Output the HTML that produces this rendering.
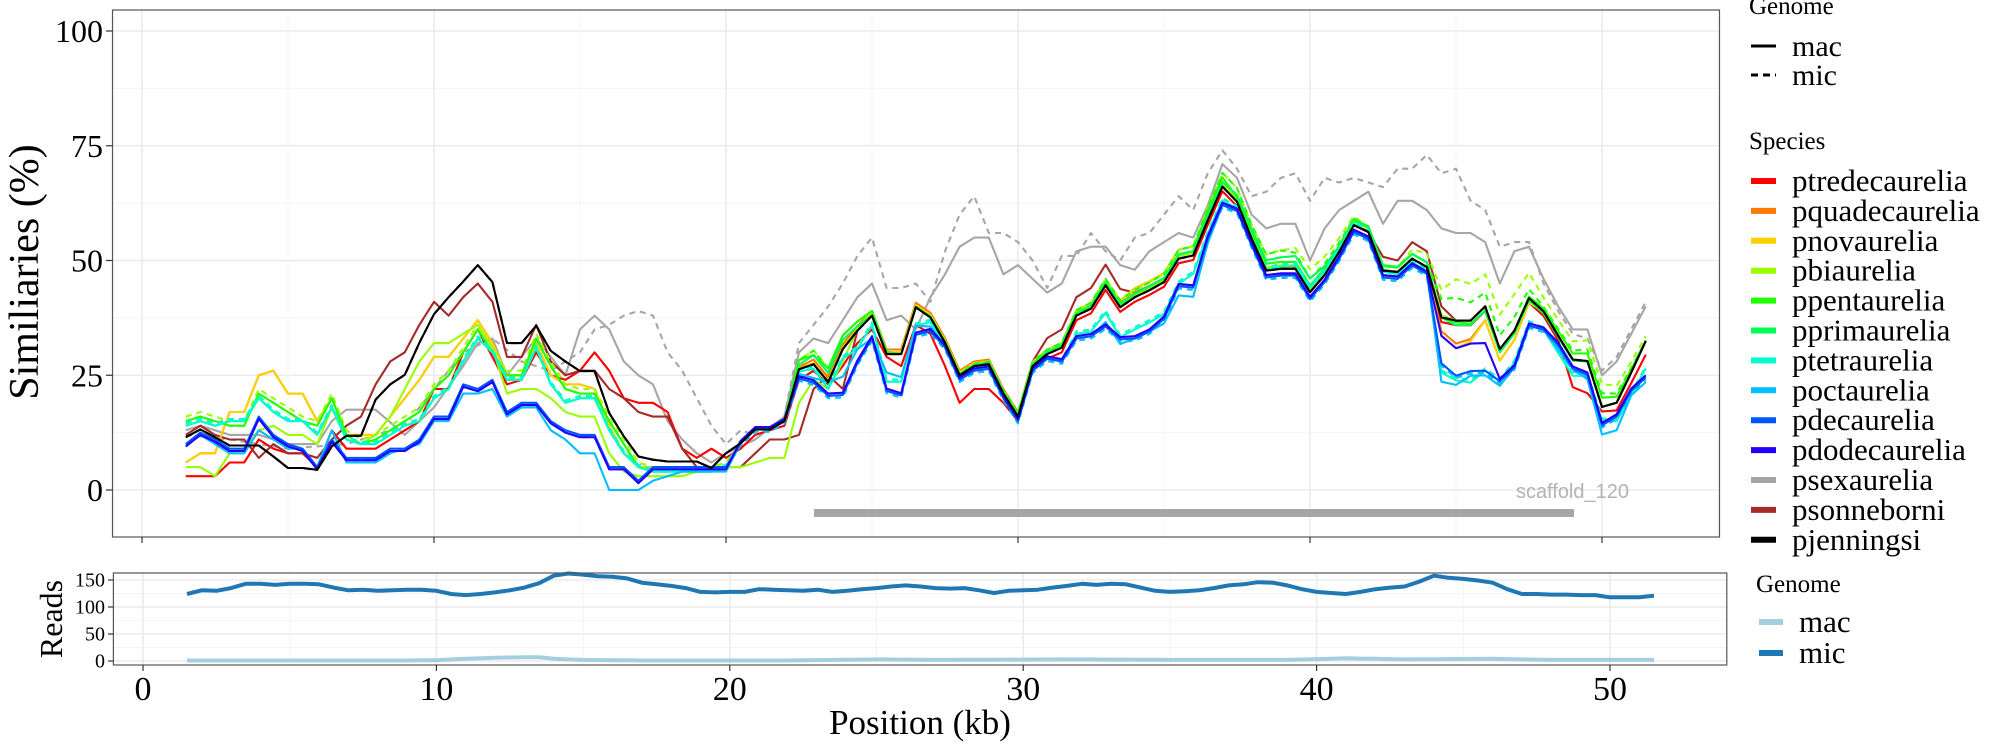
<!DOCTYPE html>
<html><head><meta charset="utf-8">
<style>
html,body{margin:0;padding:0;background:#fff;}
svg{display:block;}
text{font-family:"Liberation Serif",serif;}
</style></head>
<body>
<svg id="s" width="2000" height="750" xmlns="http://www.w3.org/2000/svg"></svg>
<script>
const S=document.getElementById('s');
let h='';
const PT=10,PB=537,BT=573,BB=665;
const X=k=>142+k*29.2, Y=v=>490-v*4.59;
const X2=k=>143+k*29.34, Y2=v=>661-v*0.54;
h+=`<rect x="112.5" y="${PT}" width="1607" height="${PB-PT}" fill="#fff"/>`;
for(let v=-12.5;v<=100;v+=12.5){const y=Y(v);if(y<PT||y>PB)continue;const maj=(v%25===0);
h+=`<line x1="112.5" x2="1719.5" y1="${y}" y2="${y}" stroke="${maj?'#ebebeb':'#f4f4f4'}" stroke-width="${maj?1.6:1}"/>`;}
for(let k=0;k<=55;k+=5){const x=X(k);if(x>1719)continue;const maj=(k%10===0);
h+=`<line y1="${PT}" y2="${PB}" x1="${x}" x2="${x}" stroke="${maj?'#ebebeb':'#f4f4f4'}" stroke-width="${maj?1.6:1}"/>`;}
for(let v=0;v<=175;v+=25){const y=Y2(v);if(y<BT)continue;const maj=(v%50===0);
h+=`<line x1="113.4" x2="1726.8" y1="${y}" y2="${y}" stroke="${maj?'#ebebeb':'#f4f4f4'}" stroke-width="${maj?1.6:1}"/>`;}
for(let k=0;k<=55;k+=5){const x=X2(k);if(x>1726)continue;const maj=(k%10===0);
h+=`<line y1="${BT}" y2="${BB}" x1="${x}" x2="${x}" stroke="${maj?'#ebebeb':'#f4f4f4'}" stroke-width="${maj?1.6:1}"/>`;}

const N=101,kb=i=>1.5+0.5*i;
const B=[11.5,13.2,11.5,9.7,9.7,9.7,7.3,4.8,4.8,4.4,9.5,11.8,11.8,19.7,23,25.1,32.1,38.3,42,45.4,49,45.3,32,32,35.8,30.3,28,25.9,25.9,16.8,11.7,7.3,6.6,6.2,6.2,6.2,4.8,8,10.2,13.2,13.2,15,26.3,27.4,23.5,30.7,34.7,38,29.6,29.6,39.8,37.6,32.1,25,27,27.4,21,16,27,29.6,31,38,39.5,44.6,39.8,42,43.5,45.3,50.4,51.1,58.8,66.1,62.8,54.8,47.8,48.2,48.2,43.1,46.8,51.9,57.7,56.2,47.8,47.5,50.4,48.6,37.6,36.9,36.9,40,30.7,34.7,41.8,38.9,33.6,28.4,28.1,18.1,19,25.6,32.5];
function interp(kp,k){if(!kp||!kp.length)return 0;if(k<=kp[0][0])return kp[0][1];for(let j=1;j<kp.length;j++){if(k<=kp[j][0]){const a=kp[j-1],b=kp[j];return a[1]+(b[1]-a[1])*(k-a[0])/(b[0]-a[0]);}}return kp[kp.length-1][1];}
function mk(early,off){const r=[];for(let i=0;i<N;i++){let v=(early&&i<early.length)?early[i]:B[i];v+=interp(off,kb(i));r.push(Math.max(0,v));}return r;}
function arr(kp){const r=[];for(let i=0;i<N;i++)r.push(interp(kp,kb(i)));return r;}
const G_e=[15,16,15,14,14,21,19,17,15,14,20,12,10,11,13,15,17,22,25,30,35,30,25,25,33,27,22,21,21,15,10,5,4,4,4,4,4,5];
const Boff=[[20,0],[22,0],[22.5,-2],[23,-4],[23.5,-3],[24,-10],[24.5,-7],[25,-5],[25.5,-8],[26,-9],[26.5,-6],[27,-3],[27.5,-1],[31,-1],[31.5,-3],[32,-5],[32.5,-6],[33,-9],[33.5,-7],[34,-9],[34.5,-9],[35,-8],[35.5,-6],[36,-7],[36.5,-4],[37,-4],[37.5,-2],[38,-1.5],[44,-1.5],[44.5,-10],[45,-12],[45.5,-11],[46,-14],[46.5,-7],[47,-8],[47.5,-6],[48,-4],[48.5,-2],[49,-2],[49.5,-3],[50,-4],[50.5,-3],[51,-4],[51.5,-8]];
const Bl_e=[10,12.5,11,9,9,16,12,10,9,5,11,7,7,7,9,9,11,16,16,23,22,24,17,19,19,15,13,12,12,5,5,2,5,5,5,5,5,5];
const Goff=[[20,0],[22,0],[22.5,2],[23,2],[23.5,3],[24,3],[25,1],[26,0],[36,1],[36.5,2],[37,2],[37.5,1],[38,1.5],[40,1.5],[44,1],[44.5,0],[46,-1],[47,0],[50,2],[51.5,0]];
const gm=[[1.5,13],[2,14],[3,12],[4,12],[5,10],[6,10],[6.5,15],[7,17.5],[8,17.5],[9,12],[10,18],[11,27],[11.5,32],[12,33],[12.5,25],[13.5,33],[14.5,25],[15,35],[15.5,38],[16,35],[16.5,28],[17,25],[17.5,23],[18,15],[18.5,11],[19,8],[19.5,6],[20,8],[21,11],[22,16],[22.5,30],[23,33],[23.5,32],[24,37],[24.5,42],[25,45],[25.5,37],[26,38],[26.5,35],[27,42],[27.5,47],[28,53],[28.5,55],[29,55],[29.5,47],[30,49],[30.5,46],[31,43],[31.5,45],[32,52],[32.5,53],[33,53],[33.5,49],[34,48],[34.5,52],[35,54],[35.5,56],[36,55],[36.5,62],[37,71],[37.5,68],[38,60],[38.5,57],[39,58],[39.5,58],[40,50],[40.5,57],[41,61],[41.5,63],[42,65],[42.5,58],[43,63],[43.5,63],[44,61],[44.5,57],[45,56],[45.5,56],[46,54],[46.5,45],[47,52],[47.5,53],[48,46],[48.5,40],[49,35],[49.5,35],[50,25],[50.5,28],[51,34],[51.5,40]];
const gd=[[1.5,12],[3,11],[5,9],[7,10],[9,14],[11,30],[12,33],[13,28],[14,26],[15,30],[15.5,35],[16,36],[16.5,38],[17,39],[17.5,38],[18,30],[18.5,26],[19,20],[19.5,14],[20,10],[20.5,13],[21,12],[21.5,13],[22,16],[22.5,32],[23,36],[23.5,40],[24,45],[24.5,51],[25,55],[25.5,44],[26,44],[26.5,45],[27,41],[27.5,52],[28,60],[28.5,64],[29,56],[29.5,56],[30,54],[30.5,50],[31,44],[31.5,51],[32,51],[32.5,56],[33,52],[33.5,50],[34,55],[34.5,56],[35,60],[35.5,64],[36,61],[36.5,69],[37,74],[37.5,70],[38,64],[38.5,65],[39,68],[39.5,69],[40,63],[40.5,68],[41,67],[41.5,68],[42,67],[42.5,66],[43,70],[43.5,70],[44,73],[44.5,69],[45,70],[45.5,63],[46,61],[46.5,53],[47,54],[47.5,54],[48,45],[48.5,39],[49,34],[49.5,33],[50,26],[50.5,29],[51,35],[51.5,41]];
const Br_e=[12,14,12,11,11,7,10,8,8,7,11,14,16,23,28,30,36,41,38,42,45,41,29,29,36,28,25,26,26,22,20,17,16,16,9,5,5,5,5,8,11,11,12,22,25,22];
const Broff=[[23.5,0],[30,0],[30.5,1],[31,3.5],[31.5,4],[32,4],[32.5,4.5],[33,4.5],[33.5,4],[34,1],[42,0],[42.5,3],[43,2.5],[43.5,3.6],[44,3.4],[44.5,2.4],[45,0]];
const R_e=[4,4,4,7,7,12,10,9,9,6,14,10,10,10,12,14,16,23,23,31,36,30,24,25,31,26,25,27,31,27,21,20,20,18,10,8,10,8,10,13,14,15,25,27,24,28,33,36,30,28,37,35,28,20,23,23,20,16];
const Roff=[[30,-1],[46,-1],[47,0],[47.5,-1],[48,-1],[48.5,-1],[49,-6],[49.5,-7],[50,-1],[51.5,-3]];
const Y_e=[6,8,8,17,17,25,26,21,21,15,20,12,12,12,16,20,24,29,29,33,37,32,25,25,32,25,23,23,22,14,8,5,5,5,5,5,5,5];
const Yoff=[[20,0],[33,1],[34,2],[36,2],[37,0],[44,0],[44.5,-4],[45,-6],[46,-3],[47,-2],[48,0]];
const L_e=[5,5,3,8,9,13,14,12,12,10,18,12,10,12,16,22,28,32,32,34,36,31,21,22,22,20,17,16,16,8,4,3,3,3,3,4,4,5,5,6,7,7,19,24,22,28];
const Loff=[[24,0],[25,1],[26,0],[44,1],[45,0]];
const C_e=[10,12,10,8,8,13,11,9,9,5,13,6,6,6,8,9,10,15,15,21,21,22,16,18,18,13,11,8,8,0,0,0,2,3,4,4,4,4];
const Coff=[[22,0],[22.5,-1],[23,-3],[23.5,0],[24,-6],[24.5,-4],[25,-5],[25.5,-4],[26,-5],[26.5,-4],[27,-2],[27.5,-1],[31,-1],[31.5,-3],[32,-5],[32.5,-6],[33,-8],[33.5,-8],[34,-9],[34.5,-9],[35,-9],[35.5,-8],[36,-9],[36.5,-5],[37,-4],[37.5,-2],[38,-1],[44,-1],[44.5,-14],[45,-14],[45.5,-12],[46,-15],[46.5,-8],[47,-8],[47.5,-6],[48,-4],[49,-2],[50,-6],[50.5,-6],[51,-5],[51.5,-9]];
const T_e=[14,15,14,15,15,20,17,15,15,12,18,11,10,10,12,14,15,20,22,28,33,30,24,24,31,23,19,20,20,13,8,5,4,4,4,4,4,5];
const Toff=[[22,0],[23,-1],[24,-2],[24.5,-4],[25,-2],[25.5,-6],[26,-6],[26.5,-4],[27,-1],[31,-1],[31.5,-3],[32,-4],[33,-6],[34,-7],[35,-7],[36,-4],[36.5,-3],[37,-3],[38,0],[40,1],[44,-1],[44.5,-12],[45,-13],[46,-14],[46.5,-7],[47,-7],[48,-4],[50,-3],[51.5,-6]];
const series=[
 [arr(gd),'#a6a6a6',1],
 [arr(gm),'#a6a6a6',0],
 [mk(R_e,Roff),'#ff0000',0],
 [mk(Br_e,Broff),'#a52a2a',0],
 [mk(Y_e,[[20,0],[22,0],[23,1],[33,1],[44,0],[44.5,-3],[45,-5],[46,-3],[47,-2],[48,0]]),'#ff7b00',0],
 [mk(Y_e,Yoff),'#ffd000',0],
 [mk(L_e,Loff),'#99ff00',0],
 [mk(G_e.map(v=>v+1),[[20,0],[22,0],[22.5,2],[23,3],[24,3],[25,1],[26,0],[36,2],[37,3],[38,3],[39,4],[40,5],[42,1],[43,1],[44,3],[44.5,6],[45,9],[46,7],[47,8],[48,3],[50,5],[51.5,1]]),'#99ff00',1],
 [mk(G_e,Goff),'#22ff00',0],
 [mk(G_e,[[20,0],[22,0],[22.5,2],[23,3],[24,3],[25,1],[26,0],[36,2],[37,3],[38,3],[39,4],[40,3],[42,1],[44,1],[44.5,4],[45,5],[46,3],[47,3],[48,1],[50,3],[51.5,0]]),'#22ff00',1],
 [mk(T_e,[[22,0],[23,2],[24,2],[25,0],[37,1],[38,2],[40,3],[41,1],[44,1],[45,-1],[50,0]]),'#00ff55',0],
 [mk(T_e,Toff),'#00ffcc',0],
 [mk(T_e,Toff.map(p=>[p[0],p[1]+0.5])),'#00ffcc',1],
 [mk(C_e,Coff),'#00bfff',0],
 [mk(Bl_e,Boff.map(p=>[p[0],p[1]-0.5])),'#00bfff',1],
 [mk(Bl_e,Boff),'#0055ff',0],
 [mk(Bl_e.map(v=>v-1),Boff.map(p=>[p[0],p[0]>44&&p[0]<46.5?p[1]+6:p[1]+0.5])),'#2200ff',0],
 [mk(null,[[1,0]]),'#000000',1],
 [mk(null,[[1,0]]),'#000000',0],
];
for(const [d,c,dash] of series){
 let p=d.map((v,i)=>`${X(kb(i)).toFixed(1)},${Y(v).toFixed(1)}`).join(' ');
 h+=`<polyline points="${p}" fill="none" stroke="${c}" stroke-width="2.1" stroke-linejoin="round" ${dash?'stroke-dasharray="6,5"':''}/>`;
}
h+='<line x1="814" x2="1574" y1="513" y2="513" stroke="#a6a6a6" stroke-width="8"/>';
h+='<text x="1629" y="498" text-anchor="end" font-size="20" fill="#b3b3b3" style="font-family:\'Liberation Sans\',sans-serif">scaffold_120</text>';
h+=`<rect x="112.5" y="${PT}" width="1607" height="${PB-PT}" fill="none" stroke="#555" stroke-width="1.2"/>`;
for(const v of [0,25,50,75,100]){const y=Y(v);h+=`<line x1="106" x2="112.5" y1="${y}" y2="${y}" stroke="#333" stroke-width="1.2"/><text x="103" y="${y+11}" text-anchor="end" font-size="32" fill="#000">${v}</text>`;}
for(let k=0;k<=50;k+=10){const x=X(k);h+=`<line x1="${x}" x2="${x}" y1="${PB}" y2="${PB+6}" stroke="#333" stroke-width="1.2"/>`;}
h+='<text transform="translate(38,272) rotate(-90)" text-anchor="middle" font-size="42">Similiaries (%)</text>';
const mic=[124,131,130,135,143,143,141,143,143,142,136,131,132,130,131,132,132,130,124,122,124,127,131,136,144,158,162,160,157,156,153,145,142,139,135,128,127,128,128,133,132,131,130,132,128,130,133,135,138,140,138,135,134,135,131,126,130,131,132,136,139,143,141,143,142,136,130,128,129,131,135,140,142,146,145,140,133,128,126,124,128,133,136,138,147,158,154,152,149,145,133,124,124,123,123,122,122,118,118,118,121];
const mac=arr([[1.5,1],[9,1],[10,1.5],[11,4],[12,6],[13,7],[13.5,7],[14,4],[15,2],[17,1],[22,1],[25,3],[27,2],[32,3],[35,2],[39,2],[41,5],[43,3],[46,4],[48,2],[51.5,2]]);
h+=`<polyline points="${mac.map((v,i)=>X2(kb(i)).toFixed(1)+','+Y2(v).toFixed(1)).join(' ')}" fill="none" stroke="#a6cee3" stroke-width="4" stroke-linejoin="round"/>`;
h+=`<polyline points="${mic.map((v,i)=>X2(kb(i)).toFixed(1)+','+Y2(v).toFixed(1)).join(' ')}" fill="none" stroke="#1f78b4" stroke-width="4" stroke-linejoin="round"/>`;
h+=`<rect x="113.4" y="${BT}" width="1613.4" height="${BB-BT}" fill="none" stroke="#555" stroke-width="1.2"/>`;
for(const v of [0,50,100,150]){const y=Y2(v);h+=`<line x1="108" x2="113.4" y1="${y}" y2="${y}" stroke="#333" stroke-width="1.2"/><text x="105" y="${y+6.5}" text-anchor="end" font-size="20">${v}</text>`;}
for(let k=0;k<=50;k+=10){const x=X2(k);h+=`<line x1="${x}" x2="${x}" y1="${BB}" y2="${BB+6}" stroke="#333" stroke-width="1.2"/><text x="${x}" y="700" text-anchor="middle" font-size="34">${k}</text>`;}
h+='<text transform="translate(62,619) rotate(-90)" text-anchor="middle" font-size="32">Reads</text>';
h+='<text x="920" y="734" text-anchor="middle" font-size="35">Position (kb)</text>';
h+='<text x="1749" y="14" font-size="25">Genome</text>';
h+='<line x1="1751" x2="1776" y1="46" y2="46" stroke="#000" stroke-width="3"/><text x="1792" y="56" font-size="30">mac</text>';
h+='<line x1="1751" x2="1776" y1="75" y2="75" stroke="#000" stroke-width="3" stroke-dasharray="7,5"/><text x="1792" y="85" font-size="30">mic</text>';
h+='<text x="1749" y="149" font-size="25">Species</text>';
const sp=[['ptredecaurelia','#ff0000'],['pquadecaurelia','#ff7b00'],['pnovaurelia','#ffd000'],['pbiaurelia','#99ff00'],['ppentaurelia','#22ff00'],['pprimaurelia','#00ff55'],['ptetraurelia','#00ffcc'],['poctaurelia','#00bfff'],['pdecaurelia','#0055ff'],['pdodecaurelia','#2200ff'],['psexaurelia','#a6a6a6'],['psonneborni','#a52a2a'],['pjenningsi','#000000']];
sp.forEach((s,i)=>{const y=181+29.9*i;h+=`<line x1="1751" x2="1776" y1="${y}" y2="${y}" stroke="${s[1]}" stroke-width="6"/><text x="1792" y="${y+10}" font-size="31">${s[0]}</text>`;});
h+='<text x="1756" y="592" font-size="25">Genome</text>';
h+='<line x1="1759" x2="1783" y1="622" y2="622" stroke="#a6cee3" stroke-width="6"/><text x="1799" y="632" font-size="31">mac</text>';
h+='<line x1="1759" x2="1783" y1="653" y2="653" stroke="#1f78b4" stroke-width="6"/><text x="1799" y="663" font-size="31">mic</text>';
S.innerHTML=h;
</script>
</body></html>
